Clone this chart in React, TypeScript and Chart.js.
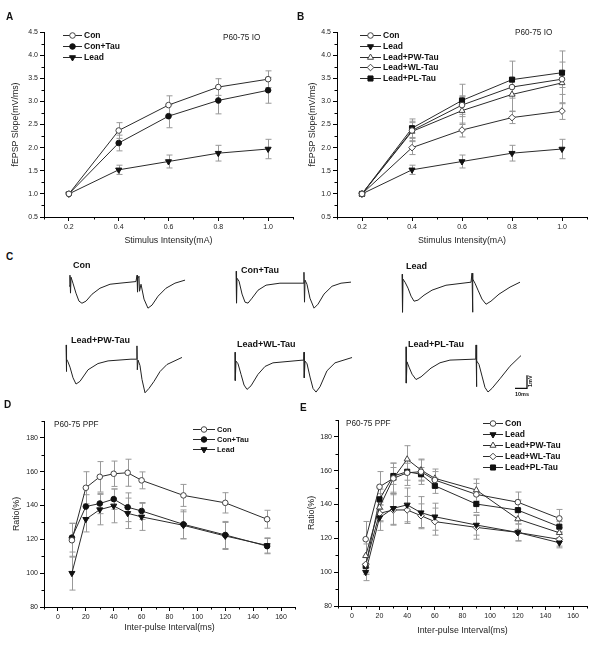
import React, { useEffect, useRef } from 'react';
import { Chart, registerables } from 'chart.js';

Chart.register(...registerables);

const FONT = '"Liberation Sans", Arial, Helvetica, sans-serif';
Chart.defaults.font.family = FONT;

// ---------- Panels A / B : input-output curves ----------
const ioIntensity = [0.2, 0.4, 0.6, 0.8, 1.0];
const ioXTicks = [0.2, 0.4, 0.6, 0.8, 1.0];
const ioYTicks = [0.5, 1.0, 1.5, 2.0, 2.5, 3.0, 3.5, 4.0, 4.5];

const ioCon = [1.0, 2.37, 2.92, 3.31, 3.48];
const ioConErr = [0, 0.17, 0.2, 0.18, 0.18];
const ioConTau = [1.0, 2.1, 2.68, 3.02, 3.24];
const ioConTauErr = [0, 0.17, 0.25, 0.29, 0.28];
const ioLead = [1.0, 1.52, 1.7, 1.88, 1.97];
const ioLeadErr = [0, 0.1, 0.14, 0.17, 0.21];
const ioPW = [1.0, 2.35, 2.8, 3.15, 3.4];
const ioPWErr = [0, 0.22, 0.3, 0.36, 0.45];
const ioWL = [1.0, 2.0, 2.38, 2.65, 2.79];
const ioWLErr = [0, 0.15, 0.15, 0.13, 0.18];
const ioPL = [1.0, 2.42, 3.02, 3.47, 3.62];
const ioPLErr = [0, 0.2, 0.35, 0.4, 0.47];

// ---------- Panels D / E : paired-pulse facilitation ----------
const ppfInterval = [10, 20, 30, 40, 50, 60, 90, 120, 150];
const ppfXTicks = [0, 20, 40, 60, 80, 100, 120, 140, 160];
const ppfYTicks = [80, 100, 120, 140, 160, 180];

const dCon = [119.5, 150.5, 157, 158.8, 159.4, 154.9, 146, 141.6, 131.9];
const dConErr = [10, 9.5, 9, 7.5, 8, 5, 6.5, 6, 5.3];
const dConTau = [121, 139.4, 141.2, 143.8, 139, 136.8, 128.9, 122.6, 116];
const dConTauErr = [8.5, 7, 6, 6, 8.5, 5, 8.5, 8, 4.5];
const dLead = [100, 131.9, 137.6, 139.8, 135.4, 133.3, 128.3, 122, 116.4];
const dLeadErr = [10, 7.5, 9, 10, 9, 8, 8, 8, 4.5];

const eCon = [119.5, 150.5, 155.5, 158.8, 159.4, 154.5, 146, 141.4, 131.8];
const eConErr = [10.5, 9, 9, 7.5, 7.5, 5, 6.5, 6, 5.3];
const eLead = [100, 132.2, 137.8, 139.8, 135.2, 132.8, 127.9, 123.5, 117.4];
const eLeadErr = [5, 7.5, 9.5, 10, 9.5, 8, 6, 5, 3];
const ePW = [109.7, 138.4, 155.5, 166.8, 160.4, 155.5, 148.6, 131.4, 123.3];
const ePWErr = [7, 8, 9, 8, 6, 5.5, 6.5, 6, 3];
const eWL = [104.6, 134.8, 136.8, 136.8, 133.4, 129.9, 126.5, 123.5, 119.4];
const eWLErr = [5, 5, 9, 8, 7, 8, 7, 5, 4];
const ePL = [103.6, 143.1, 156.9, 159.4, 157.9, 151.1, 140.3, 136.7, 126.9];
const ePLErr = [5, 6, 5, 5, 4, 4.5, 5, 6, 3];

// ---------- Panel C : field potential traces, [ms, mV] ----------
const conTrace = [[2.5, -0.37], [3.3, 0.45], [3.75, -0.9], [4.2, 0.3], [5.8, -0.15], [8.3, -0.9], [10.8, -1.5], [13.3, -1.66], [16.7, -1.5], [21.7, -0.98], [28.3, -0.53], [36.7, -0.23], [45, -0.15], [58.3, -0.03], [59.2, 0.45], [59.6, -0.82], [60, 0.3], [60.8, 0.37], [61.25, -0.76], [62.5, -0.23], [65, -1.35], [68.3, -2.03], [71.7, -1.8], [76.7, -1.13], [83.3, -0.53], [90.8, -0.15], [99.2, 0.08]];
const conTauTrace = [[1.7, 0.9], [2.1, -1.5], [2.5, 0.37], [4.2, 0.15], [6.7, -0.82], [9.2, -1.43], [11.7, -1.5], [15, -1.13], [20, -0.53], [26.7, -0.15], [38.3, 0], [57.5, 0], [58.3, 0.82], [58.75, -1.43], [59.2, 0.23], [60.8, -0.08], [63.3, -1.13], [66.7, -1.88], [70, -1.58], [75, -0.82], [81.7, -0.23], [89.2, 0], [97.5, 0.08]];
const leadTrace = [[1.7, 0.6], [2.1, -2.26], [2.5, 0.23], [4.2, 0], [6.7, -0.45], [9.2, -1.05], [11.7, -1.43], [15, -1.35], [20, -0.98], [26.7, -0.6], [38.3, -0.23], [59.2, 0], [60, 0.68], [60.4, -2.26], [60.8, 0.23], [62.5, -0.08], [65, -0.6], [68.3, -1.27], [71.7, -1.66], [75.8, -1.43], [82.5, -0.9], [91.7, -0.37], [100, 0]];
const pwTrace = [[1.7, 1.07], [1.9, -0.93], [2.3, 0], [3.3, -0.2], [5, -0.6], [7.5, -1.4], [10, -1.87], [13.3, -1.67], [20, -0.8], [28.3, -0.33], [36.7, -0.13], [55.8, 0], [60.5, 0], [60.8, 1], [61.1, -0.8], [61.7, -0.07], [63.3, -0.47], [65, -1.53], [67.5, -2.53], [70.8, -2.2], [75, -1.67], [80, -0.93], [85.8, -0.4], [98.3, 0.13]];
const wlTrace = [[1.7, 0.6], [1.9, -1.53], [2.5, -0.07], [4.2, -0.27], [6.7, -1.07], [9.2, -1.87], [11.7, -2.2], [15, -1.93], [20.8, -1.07], [26.7, -0.47], [33.3, -0.2], [57.5, 0], [59, 0], [59.2, 0.6], [59.4, -1.33], [60, -0.07], [61.7, -0.27], [64.2, -1.27], [66.7, -2.13], [69.2, -2.4], [72.5, -2], [78.3, -0.8], [85, -0.2], [99.2, 0.2]];
const plTrace = [[1.7, 0.93], [1.9, -1.8], [2.5, -0.2], [4.2, -0.6], [6.7, -1.13], [10, -1.53], [14.2, -1.33], [22.5, -0.67], [30, -0.27], [38.3, -0.07], [58.3, 0], [59.8, 0], [60, 1.07], [60.25, -2.07], [60.8, -0.13], [62.5, -0.4], [65, -1.27], [67.5, -2.13], [70, -2.47], [73.3, -2.2], [80, -1.47], [88.3, -0.53], [97.5, 0.27]];
const scaleBarOrigin = [92.5, -2.2];
const scaleBarMs = 10;
const scaleBarMv = 1;

// ---------- styles ----------
const MARK: any = {
  openCircle: { pointStyle: 'circle', radius: 2.8, fill: '#fff', stroke: '#444', rot: 0 },
  filledCircle: { pointStyle: 'circle', radius: 2.8, fill: '#111', stroke: '#111', rot: 0 },
  downTri: { pointStyle: 'triangle', radius: 3.5, fill: '#111', stroke: '#111', rot: 180 },
  openTri: { pointStyle: 'triangle', radius: 3.5, fill: '#fff', stroke: '#444', rot: 0 },
  openDiamond: { pointStyle: 'rectRot', radius: 3.3, fill: '#fff', stroke: '#444', rot: 0 },
  filledSquare: { pointStyle: 'rect', radius: 3.6, fill: '#111', stroke: '#111', rot: 0 },
};

function series(label: string, xs: number[], ys: number[], errs: number[], mark: string) {
  const m = MARK[mark];
  return {
    label,
    data: xs.map((x, i) => ({ x, y: ys[i] })),
    errors: errs,
    marker: mark,
    borderColor: '#2b2b2b',
    borderWidth: 1,
    pointStyle: m.pointStyle,
    pointRotation: m.rot,
    pointRadius: m.radius,
    pointBackgroundColor: m.fill,
    pointBorderColor: m.stroke,
    pointBorderWidth: 1,
    tension: 0,
    fill: false,
  };
}

function drawMarker(ctx: CanvasRenderingContext2D, mark: string, x: number, y: number) {
  const m = MARK[mark];
  const r = m.radius;
  ctx.save();
  ctx.beginPath();
  ctx.fillStyle = m.fill;
  ctx.strokeStyle = m.stroke;
  ctx.lineWidth = 1;
  if (m.pointStyle === 'circle') {
    ctx.arc(x, y, r, 0, Math.PI * 2);
  } else if (m.pointStyle === 'triangle') {
    const s = m.rot ? -1 : 1;
    ctx.moveTo(x, y - s * r);
    ctx.lineTo(x + r * 0.866, y + s * r * 0.5);
    ctx.lineTo(x - r * 0.866, y + s * r * 0.5);
    ctx.closePath();
  } else if (m.pointStyle === 'rectRot') {
    ctx.moveTo(x, y - r);
    ctx.lineTo(x + r, y);
    ctx.lineTo(x, y + r);
    ctx.lineTo(x - r, y);
    ctx.closePath();
  } else {
    const h = r * Math.SQRT1_2;
    ctx.rect(x - h, y - h, 2 * h, 2 * h);
  }
  ctx.fill();
  ctx.stroke();
  ctx.restore();
}

const errorBarsPlugin = {
  id: 'errorBars',
  beforeDatasetsDraw(chart: any) {
    const ctx = chart.ctx;
    const ys = chart.scales.y;
    ctx.save();
    ctx.strokeStyle = '#999';
    ctx.lineWidth = 1;
    chart.data.datasets.forEach((ds: any, i: number) => {
      const meta = chart.getDatasetMeta(i);
      (ds.errors || []).forEach((e: number, j: number) => {
        if (!e) return;
        const pt = meta.data[j];
        const v = ds.data[j].y;
        const x = Math.round(pt.x) + 0.5;
        const y1 = ys.getPixelForValue(v + e);
        const y2 = ys.getPixelForValue(v - e);
        ctx.beginPath();
        ctx.moveTo(x, y1);
        ctx.lineTo(x, y2);
        ctx.moveTo(x - 3, y1);
        ctx.lineTo(x + 3, y1);
        ctx.moveTo(x - 3, y2);
        ctx.lineTo(x + 3, y2);
        ctx.stroke();
      });
    });
    ctx.restore();
  },
};

function minorValues(sc: any) {
  const v = sc.ticks.map((t: any) => t.value);
  const step = v[1] - v[0];
  let s = v[0] - step / 2;
  while (s - step >= sc.min - 1e-9) s -= step;
  const out: number[] = [];
  for (let m = s; m <= sc.max + 1e-9; m += step) if (m >= sc.min - 1e-9) out.push(m);
  return out;
}

const minorTicksPlugin = {
  id: 'minorTicks',
  afterDraw(chart: any) {
    const ctx = chart.ctx;
    const { x, y } = chart.scales;
    const area = chart.chartArea;
    ctx.save();
    ctx.strokeStyle = '#000';
    ctx.lineWidth = 1;
    ctx.beginPath();
    minorValues(x).forEach((v) => {
      const px = Math.round(x.getPixelForValue(v)) + 0.5;
      ctx.moveTo(px, area.bottom);
      ctx.lineTo(px, area.bottom + 2.5);
    });
    minorValues(y).forEach((v) => {
      const py = Math.round(y.getPixelForValue(v)) + 0.5;
      ctx.moveTo(area.left, py);
      ctx.lineTo(area.left - 2.5, py);
    });
    ctx.stroke();
    ctx.restore();
  },
};

function makeTextPlugin(cfg: any) {
  return {
    id: 'panelText',
    afterDraw(chart: any) {
      const ctx = chart.ctx;
      const lg = cfg.legend;
      ctx.save();
      chart.data.datasets.forEach((ds: any, i: number) => {
        const yy = Math.round(lg.y0 + i * lg.dy) + 0.5;
        ctx.strokeStyle = '#2b2b2b';
        ctx.lineWidth = 1;
        ctx.beginPath();
        ctx.moveTo(lg.x1, yy);
        ctx.lineTo(lg.x2, yy);
        ctx.stroke();
        drawMarker(ctx, ds.marker, (lg.x1 + lg.x2) / 2, yy);
        ctx.fillStyle = '#111';
        ctx.font = `bold ${lg.size}px ${FONT}`;
        ctx.textBaseline = 'middle';
        ctx.textAlign = 'left';
        ctx.fillText(ds.label, lg.tx, yy + 0.5);
      });
      const n = cfg.note;
      ctx.fillStyle = '#222';
      ctx.font = `${n.size}px ${FONT}`;
      ctx.textBaseline = 'middle';
      ctx.fillText(n.text, n.x, n.y);
      ctx.restore();
    },
  };
}

function xyConfig(cfg: any) {
  const axisCommon = (ticks: number[], dec: number, min: number, max: number, title: string, titlePad: any, fix: (s: any) => void) => ({
    type: 'linear',
    min,
    max,
    afterBuildTicks: (s: any) => {
      s.ticks = ticks.map((value) => ({ value }));
    },
    afterFit: fix,
    grid: { display: true, drawOnChartArea: false, drawTicks: true, tickLength: 4, color: '#000', tickColor: '#000', lineWidth: 1 },
    border: { display: true, color: '#000', width: 1 },
    ticks: {
      font: { family: FONT, size: 7 },
      color: '#222',
      padding: 2,
      maxRotation: 0,
      autoSkip: false,
      callback: (v: any) => Number(v).toFixed(dec),
    },
    title: { display: true, text: title, color: '#222', font: { family: FONT, size: 8.8 }, padding: titlePad },
  });
  return {
    type: 'line',
    data: { datasets: cfg.datasets },
    options: {
      animation: false,
      responsive: false,
      maintainAspectRatio: false,
      layout: { padding: cfg.pad },
      plugins: { legend: { display: false }, tooltip: { enabled: false } },
      scales: {
        x: axisCommon(cfg.xTicks, cfg.xDec, cfg.xMin, cfg.xMax, cfg.xTitle, { top: 0, bottom: cfg.xTitlePad }, (s: any) => {
          s.height = cfg.xHeight;
        }),
        y: axisCommon(cfg.yTicks, cfg.yDec, cfg.yMin, cfg.yMax, cfg.yTitle, { top: cfg.yTitlePad, bottom: 0 }, (s: any) => {
          s.width = cfg.yWidth;
        }),
      },
    },
    plugins: [errorBarsPlugin, minorTicksPlugin, makeTextPlugin(cfg)],
  };
}

const configA = () =>
  xyConfig({
    datasets: [
      series('Con', ioIntensity, ioCon, ioConErr, 'openCircle'),
      series('Con+Tau', ioIntensity, ioConTau, ioConTauErr, 'filledCircle'),
      series('Lead', ioIntensity, ioLead, ioLeadErr, 'downTri'),
    ],
    xTicks: ioXTicks, yTicks: ioYTicks, xDec: 1, yDec: 1,
    xMin: 0.1, xMax: 1.1, yMin: 0.5, yMax: 4.5,
    xTitle: 'Stimulus Intensity(mA)', yTitle: 'fEPSP Slope(mV/ms)',
    pad: { left: 0, right: 7, top: 32, bottom: 0 },
    yWidth: 44, xHeight: 33, xTitlePad: 4, yTitlePad: 10,
    legend: { x1: 63, x2: 82, tx: 84, y0: 35, dy: 11, size: 8.5 },
    note: { text: 'P60-75 IO', x: 223, y: 38, size: 8.2 },
  });

const configB = () =>
  xyConfig({
    datasets: [
      series('Con', ioIntensity, ioCon, ioConErr, 'openCircle'),
      series('Lead', ioIntensity, ioLead, ioLeadErr, 'downTri'),
      series('Lead+PW-Tau', ioIntensity, ioPW, ioPWErr, 'openTri'),
      series('Lead+WL-Tau', ioIntensity, ioWL, ioWLErr, 'openDiamond'),
      series('Lead+PL-Tau', ioIntensity, ioPL, ioPLErr, 'filledSquare'),
    ],
    xTicks: ioXTicks, yTicks: ioYTicks, xDec: 1, yDec: 1,
    xMin: 0.1, xMax: 1.1, yMin: 0.5, yMax: 4.5,
    xTitle: 'Stimulus Intensity(mA)', yTitle: 'fEPSP Slope(mV/ms)',
    pad: { left: 0, right: 13, top: 32, bottom: 0 },
    yWidth: 37, xHeight: 33, xTitlePad: 4, yTitlePad: 7.7,
    legend: { x1: 60, x2: 81, tx: 83, y0: 35, dy: 10.8, size: 8.5 },
    note: { text: 'P60-75 IO', x: 215, y: 33, size: 8.2 },
  });

const configD = () =>
  xyConfig({
    datasets: [
      series('Con', ppfInterval, dCon, dConErr, 'openCircle'),
      series('Con+Tau', ppfInterval, dConTau, dConTauErr, 'filledCircle'),
      series('Lead', ppfInterval, dLead, dLeadErr, 'downTri'),
    ],
    xTicks: ppfXTicks, yTicks: ppfYTicks, xDec: 0, yDec: 0,
    xMin: -10, xMax: 170, yMin: 80, yMax: 190,
    xTitle: 'Inter-pulse Interval(ms)', yTitle: 'Ratio(%)',
    pad: { left: 0, right: 5, top: 21, bottom: 0 },
    yWidth: 44, xHeight: 33, xTitlePad: 6.7, yTitlePad: 11.7,
    legend: { x1: 193, x2: 215, tx: 217, y0: 29, dy: 10, size: 7.5 },
    note: { text: 'P60-75 PPF', x: 54, y: 25, size: 8.2 },
  });

const configE = () =>
  xyConfig({
    datasets: [
      series('Con', ppfInterval, eCon, eConErr, 'openCircle'),
      series('Lead', ppfInterval, eLead, eLeadErr, 'downTri'),
      series('Lead+PW-Tau', ppfInterval, ePW, ePWErr, 'openTri'),
      series('Lead+WL-Tau', ppfInterval, eWL, eWLErr, 'openDiamond'),
      series('Lead+PL-Tau', ppfInterval, ePL, ePLErr, 'filledSquare'),
    ],
    xTicks: ppfXTicks, yTicks: ppfYTicks, xDec: 0, yDec: 0,
    xMin: -10, xMax: 170, yMin: 80, yMax: 190,
    xTitle: 'Inter-pulse Interval(ms)', yTitle: 'Ratio(%)',
    pad: { left: 0, right: 13, top: 20, bottom: 0 },
    yWidth: 38, xHeight: 34, xTitlePad: 4, yTitlePad: 6.7,
    legend: { x1: 183, x2: 203, tx: 205, y0: 23, dy: 11, size: 8.5 },
    note: { text: 'P60-75 PPF', x: 46, y: 24, size: 8.2 },
  });

function traceConfig(points: number[][], withScaleBar = false) {
  const datasets: any[] = [
    {
      data: points.map(([x, y]) => ({ x, y })),
      borderColor: '#222',
      borderWidth: 1,
      pointRadius: 0,
      tension: 0,
      fill: false,
    },
  ];
  if (withScaleBar) {
    const [bx, by] = scaleBarOrigin;
    datasets.push({
      data: [
        { x: bx, y: by },
        { x: bx + scaleBarMs, y: by },
        { x: bx + scaleBarMs, y: by + scaleBarMv },
      ],
      borderColor: '#111',
      borderWidth: 1.3,
      pointRadius: 0,
      tension: 0,
      fill: false,
    });
  }
  return () => ({
    type: 'line',
    data: { datasets },
    options: {
      animation: false,
      responsive: false,
      maintainAspectRatio: false,
      layout: { padding: 0 },
      plugins: { legend: { display: false }, tooltip: { enabled: false } },
      scales: {
        x: { type: 'linear', display: false, min: 0, max: 110 },
        y: { type: 'linear', display: false, min: -4.5, max: 2.27 },
      },
    },
  });
}

function ChartCanvas({ left, top, width, height, make }: any) {
  const ref = useRef<HTMLCanvasElement>(null);
  useEffect(() => {
    const chart = new Chart(ref.current as HTMLCanvasElement, make() as any);
    return () => chart.destroy();
  }, []);
  return <canvas ref={ref} width={width} height={height} style={{ position: 'absolute', left, top, width, height }} />;
}

function Txt({ x, y, size, bold = true, children, rotate = false }: any) {
  return (
    <div
      style={{
        position: 'absolute',
        left: x,
        top: y,
        fontSize: size,
        fontWeight: bold ? 'bold' : 'normal',
        lineHeight: 1,
        whiteSpace: 'nowrap',
        color: '#111',
        transform: rotate ? 'rotate(-90deg)' : undefined,
        transformOrigin: 'left top',
      }}
    >
      {children}
    </div>
  );
}

export default function App() {
  return (
    <div style={{ position: 'fixed', left: 0, top: 0, width: 600, height: 663, background: '#fff', overflow: 'hidden', fontFamily: FONT }}>
      <ChartCanvas left={0} top={0} width={300} height={250} make={configA} />
      <ChartCanvas left={300} top={0} width={300} height={250} make={configB} />
      <ChartCanvas left={0} top={400} width={300} height={240} make={configD} />
      <ChartCanvas left={300} top={400} width={300} height={240} make={configE} />

      <ChartCanvas left={66} top={251} width={132} height={90} make={traceConfig(conTrace)} />
      <ChartCanvas left={234} top={253} width={132} height={90} make={traceConfig(conTauTrace)} />
      <ChartCanvas left={400} top={252} width={132} height={90} make={traceConfig(leadTrace)} />
      <ChartCanvas left={64} top={329} width={132} height={90} make={traceConfig(pwTrace)} />
      <ChartCanvas left={233} top={330} width={132} height={90} make={traceConfig(wlTrace)} />
      <ChartCanvas left={404} top={329} width={132} height={90} make={traceConfig(plTrace, true)} />

      <Txt x={6} y={12} size={10}>A</Txt>
      <Txt x={297} y={12} size={10}>B</Txt>
      <Txt x={6} y={252} size={10}>C</Txt>
      <Txt x={4} y={400} size={10}>D</Txt>
      <Txt x={300} y={403} size={10}>E</Txt>

      <Txt x={73} y={260.5} size={9}>Con</Txt>
      <Txt x={241} y={265.5} size={9}>Con+Tau</Txt>
      <Txt x={406} y={262} size={9}>Lead</Txt>
      <Txt x={71} y={336.3} size={9}>Lead+PW-Tau</Txt>
      <Txt x={237} y={339.6} size={9}>Lead+WL-Tau</Txt>
      <Txt x={408} y={339.6} size={9}>Lead+PL-Tau</Txt>

      <Txt x={515} y={391.5} size={5.5}>10ms</Txt>
      <Txt x={528} y={386.5} size={5.5} rotate>1mV</Txt>
    </div>
  );
}
